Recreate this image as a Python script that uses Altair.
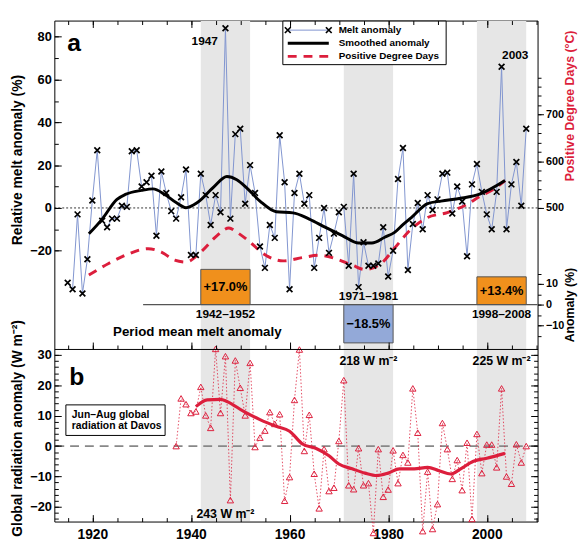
import altair as alt
import pandas as pd

FONT = "Liberation Sans"
RED = "#dc1e3c"
BLUE_LINE = "#8094cf"
ORANGE = "#f0901c"
BAR_BLUE = "#93a9d8"
BAND = "#e6e6e6"
XSHAPE = "M-1,-1L1,1M-1,1L1,-1"

# ---------------- data ----------------
melt_years = list(range(1915, 2009))
melt_values = [-35, -38, -3, -40, -24, 3.5, 27, -6, -9, -5,
               -5, 1, 0.5, 26.5, 27, 10, 12, 15, -13, 17,
               7, -1.5, -5, 5, 18, -22, -22, 16, 6, -8,
               6, -2, 84, -5, 34.5, 37, 2, 20, 7, -18,
               -28, -8, -14, 34, 12, -38, 7, 16, 2, 6,
               -28, -14, 0, -21, -12, -2, 0.5, -27, 16, -37,
               -16, -27, -27, -26, -9, -32, -20, 13.5, 28, -29,
               -7.5, 2.3, -10, 6, -1, 4, 16, 16.5, -2.6, 10,
               3, -22.6, 11, 20.5, 7.5, -3, -10, 7.5, 66, -10,
               11, 21.5, 1, 37]

smooth_years = [1919.3, 1922, 1925, 1926.7, 1930, 1932.3, 1934.7, 1937, 1939, 1941.3,
                1944.7, 1947.3, 1949.3, 1951.3, 1954, 1957.3, 1960.7, 1964, 1967.3, 1970.7,
                1974, 1976.7, 1979.3, 1981.3, 1983, 1984.7, 1988, 1990.7, 1994.7, 1998.7, 2003.7]
smooth_values = [-12.1, -5.2, 4, 6.3, 8.2, 8.9, 6.3, 2.5, 0.1, 2.5,
                 10, 14.7, 13.2, 9.4, 3.2, -1.8, -2.3, -5.2, -9.1, -12.9,
                 -16.4, -16.4, -13.7, -11.4, -7.8, -4.5, 2, 3.2, 4.5, 6.6, 12.8]

pdd_years = [1919.3, 1923.3, 1926.7, 1931.3, 1934, 1936.7, 1939, 1942, 1945.3, 1947.7,
             1949.3, 1952, 1954.7, 1958.7, 1962.7, 1966, 1969.3, 1972.7, 1975.3, 1978.7,
             1981.3, 1984.7, 1988, 1992, 1996, 1998.7, 2001.3, 2003.7]
pdd_values = [356, 381, 398.5, 412.7, 405.5, 388, 384, 405.5, 440.8, 457,
              448, 426.6, 402, 386.5, 393.7, 398.5, 391.4, 377.4, 368, 382,
              414, 455, 479.5, 490, 507.8, 525.4, 539.5, 558.6]

rad_years = list(range(1937, 2009))
rad_values = [0, 15.7, 13.8, 10.9, 11.4, 19.5, 10.1, 6, 32, 10.9,
              29.6, -17.8, 28.2, 19.2, 10.1, 27.4, -0.3, 2.8, 5.1, 11.2,
              7.3, 10.5, -18, -10.2, 15.2, 31.8, -1.6, 10.3, -9.1, -20.5,
              -1, -14.8, -13.7, 1.7, 21.7, -12.9, -14.2, -0.7, -12.9, -12.2,
              -28.6, -1, -16.7, -14.3, -1.4, -12.2, -2.9, -5.4, 19, 4.4,
              -28, -8.4, -27.3, -19.1, 7.6, -1, -10.8, -4.6, -14.5, 1.1,
              -24, 4, -8.9, 0.5, 0.5, -7, 19, -10, -12.4, 0.6,
              -5.4, 0]

radsm_years = [1941, 1943.3, 1946, 1947.3, 1950.7, 1954, 1957.3, 1960, 1962.7, 1965.3,
               1968, 1970, 1972.7, 1975.3, 1977.7, 1980, 1982.3, 1985.3, 1988, 1990.3,
               1992.7, 1994.7, 1997.3, 2000, 2003.7]
radsm_values = [13, 15.2, 15.4, 14.7, 11.4, 8.7, 6.5, 4.9, 0.6, -0.7,
                -3.2, -5.9, -7.5, -8.9, -9.7, -8.9, -7.5, -7.5, -7, -8.1,
                -9.2, -7.5, -5, -4, -2.4]

band_start = [1942, 1971, 1998]
band_end = [1952, 1981, 2008]
period_labels = ["1942–1952", "1971–1981", "1998–2008"]
period_means = [17.0, -18.5, 13.4]
period_texts = ["+17.0%", "−18.5%", "+13.4%"]
rad_means = ["243 W m⁻²", "218 W m⁻²", "225 W m⁻²"]

# ---------------- scales ----------------
W, H = 490, 508


def xs():
    return alt.Scale(domain=[1912.3, 2010.3], nice=False, zero=False)


def melt_s():
    return alt.Scale(domain=[-20, 80], range=[233.4, 16.4], nice=False, zero=False)


def pdd_s():
    return alt.Scale(domain=[500, 780], range=[190, 57.56], nice=False, zero=False)


def bar_s():
    return alt.Scale(domain=[-15, 15], range=[319.5, 256.5], nice=False, zero=False)


def rad_s():
    return alt.Scale(domain=[-24, 30], range=[505.4, 339.1], nice=False, zero=False)


def tick_axis(orient, offset, values, size, domain=False):
    return alt.Axis(orient=orient, offset=offset, values=values, tickSize=size, labels=False,
                    domain=domain, grid=False, ticks=True, tickColor="black", tickWidth=1,
                    domainColor="black", zindex=2)


dummy = pd.DataFrame({"year": [1960.0], "v": [0.0]})


def axis_layer(yscale, x_axis=None, y_axis=None):
    return alt.Chart(dummy).mark_point(opacity=0).encode(
        x=alt.X("year:Q", scale=xs(), axis=x_axis, title=None),
        y=alt.Y("v:Q", scale=yscale(), axis=y_axis, title=None),
    )


yr5 = list(range(1915, 2011, 5))
yr20 = [1920, 1940, 1960, 1980, 2000]

melt_df = pd.DataFrame({"year": melt_years, "v": melt_values})
smooth_df = pd.DataFrame({"year": smooth_years, "v": smooth_values})
pdd_df = pd.DataFrame({"year": pdd_years, "v": pdd_values})
rad_df = pd.DataFrame({"year": rad_years, "v": rad_values})
radsm_df = pd.DataFrame({"year": radsm_years, "v": radsm_values})
per_df = pd.DataFrame({"start": band_start, "end": band_end, "mean": period_means,
                       "label": period_texts, "period": period_labels})
per_df["mid"] = (per_df["start"] + per_df["end"]) / 2
per_df["half"] = per_df["mean"] / 2
per_df["zero"] = 0.0
zero_df = pd.DataFrame({"v": [0.0]})
base_df = pd.DataFrame({"x0": [1930.3], "x1": [2010.3], "v": [0.0]})

layers = []

# gray bands + bottom year labels
layers.append(
    alt.Chart(per_df).mark_rect(color=BAND).encode(
        x=alt.X("start:Q", scale=xs(), title=None,
                axis=alt.Axis(orient="bottom", values=yr20, format="d", ticks=False, domain=False,
                              labelFontSize=14, labelPadding=6, grid=False)),
        x2="end:Q",
        y=alt.value(0.5), y2=alt.value(H - 0.5),
    )
)

# period mean bars
layers.append(
    alt.Chart(per_df).mark_rect(stroke="#555555", strokeWidth=1).encode(
        x=alt.X("start:Q", scale=xs(), axis=None),
        x2="end:Q",
        y=alt.Y("mean:Q", scale=bar_s(), title="Anomaly (%)",
                axis=alt.Axis(orient="right", values=[-10, 0, 10], tickSize=6, domain=False,
                              labelFontSize=11, labelPadding=2, titleX=32, titleY=288,
                              titleAngle=270, titleAlign="center", titleBaseline="middle",
                              titleFontSize=12.5, grid=False, zindex=2)),
        y2="zero:Q",
        color=alt.condition("datum.mean > 0", alt.value(ORANGE), alt.value(BAR_BLUE)),
    )
)
layers.append(
    alt.Chart(base_df).mark_rule(color="#555555", strokeWidth=1.2).encode(
        x=alt.X("x0:Q", scale=xs(), axis=None), x2="x1:Q",
        y=alt.Y("v:Q", scale=bar_s(), axis=None),
    )
)
layers.append(
    alt.Chart(per_df).mark_text(font=FONT, fontWeight="bold", fontSize=13, color="black",
                                baseline="middle").encode(
        x=alt.X("mid:Q", scale=xs(), axis=None),
        y=alt.Y("half:Q", scale=bar_s(), axis=None),
        text="label:N",
    )
)
layers.append(
    alt.Chart(per_df).transform_calculate(ly="datum.mean > 0 ? -6.3 : 2.4").mark_text(
        font=FONT, fontWeight="bold", fontSize=12, color="black", baseline="alphabetic").encode(
        x=alt.X("mid:Q", scale=xs(), axis=None),
        y=alt.Y("ly:Q", scale=bar_s(), axis=None),
        text="period:N",
    )
)

# panel a zero line
layers.append(
    alt.Chart(zero_df).mark_rule(color="black", strokeDash=[2, 2], strokeWidth=0.8).encode(
        y=alt.Y("v:Q", scale=melt_s(), axis=None)
    )
)
# melt anomaly line
layers.append(
    alt.Chart(melt_df).mark_line(color=BLUE_LINE, strokeWidth=1).encode(
        x=alt.X("year:Q", scale=xs(), axis=None),
        y=alt.Y("v:Q", scale=melt_s(), title="Relative melt anomaly (%)",
                axis=alt.Axis(orient="left", values=[-20, 0, 20, 40, 60, 80], ticks=False,
                              domain=False, labelFontSize=13, labelPadding=3, titleX=-37,
                              titleY=141, titleAngle=270, titleAlign="center",
                              titleBaseline="middle", titleFontSize=14, grid=False)),
    )
)
# PDD
layers.append(
    alt.Chart(pdd_df).mark_line(color=RED, strokeWidth=3, strokeDash=[9, 7],
                                interpolate="monotone").encode(
        x=alt.X("year:Q", scale=xs(), axis=None),
        y=alt.Y("v:Q", scale=pdd_s(), title="Positive Degree Days (°C)",
                axis=alt.Axis(orient="right", values=[500, 600, 700], tickSize=6, domain=False,
                              labelFontSize=11, labelPadding=2, titleX=32, titleY=86,
                              titleAngle=270, titleAlign="center", titleBaseline="middle",
                              titleFontSize=12.5, titleColor=RED, grid=False, zindex=2)),
    )
)
# smoothed
layers.append(
    alt.Chart(smooth_df).mark_line(color="black", strokeWidth=3, interpolate="monotone").encode(
        x=alt.X("year:Q", scale=xs(), axis=None),
        y=alt.Y("v:Q", scale=melt_s(), axis=None),
    )
)
# melt points
layers.append(
    alt.Chart(melt_df).mark_point(shape=XSHAPE, size=34, color="black", filled=False,
                                  strokeWidth=1.7, opacity=1).encode(
        x=alt.X("year:Q", scale=xs(), axis=None),
        y=alt.Y("v:Q", scale=melt_s(), axis=None),
    )
)

# panel b
layers.append(
    alt.Chart(zero_df).mark_rule(color="#888888", strokeDash=[9, 6], strokeWidth=1.6).encode(
        y=alt.Y("v:Q", scale=rad_s(), axis=None)
    )
)
layers.append(
    alt.Chart(rad_df).mark_line(color=RED, strokeWidth=1, strokeDash=[1.5, 2], opacity=0.8).encode(
        x=alt.X("year:Q", scale=xs(), axis=None),
        y=alt.Y("v:Q", scale=rad_s(), title="Global radiation anomaly (W m⁻²)",
                axis=alt.Axis(orient="left", values=[-20, -10, 0, 10, 20, 30], ticks=False,
                              domain=False, labelFontSize=13, labelPadding=3, titleX=-37,
                              titleY=413, titleAngle=270, titleAlign="center",
                              titleBaseline="middle", titleFontSize=14, grid=False)),
    )
)
layers.append(
    alt.Chart(rad_df).mark_point(shape="triangle-up", size=42, color=RED, filled=False,
                                 strokeWidth=1, opacity=1).encode(
        x=alt.X("year:Q", scale=xs(), axis=None),
        y=alt.Y("v:Q", scale=rad_s(), axis=None),
    )
)
layers.append(
    alt.Chart(radsm_df).mark_line(color=RED, strokeWidth=3.2, interpolate="monotone").encode(
        x=alt.X("year:Q", scale=xs(), axis=None),
        y=alt.Y("v:Q", scale=rad_s(), axis=None),
    )
)

# tick-only axes
layers += [
    axis_layer(melt_s, tick_axis("bottom", -H, yr20, 7), tick_axis("right", -W, list(range(-20, 81, 20)), 7)),
    axis_layer(melt_s, tick_axis("bottom", -H, yr5, 4), tick_axis("right", -W, list(range(-20, 81, 10)), 4)),
    axis_layer(pdd_s, tick_axis("top", -333, yr20, 7, domain=True), tick_axis("right", 0, list(range(500, 781, 20)), 3.5)),
    axis_layer(bar_s, tick_axis("top", -333, yr5, 4), tick_axis("right", 0, list(range(-15, 16, 5)), 3.5)),
    axis_layer(rad_s, tick_axis("top", -H, yr20, 7), tick_axis("right", -W, list(range(-20, 31, 10)), 7)),
    axis_layer(rad_s, tick_axis("top", -H, yr5, 4), tick_axis("right", -W, list(range(-24, 31, 2)), 4)),
    axis_layer(rad_s, None, tick_axis("left", -W, list(range(-20, 31, 10)), 7)),
    axis_layer(rad_s, None, tick_axis("left", -W, list(range(-24, 31, 2)), 4)),
]

# radiation period means
for m, t, py in zip((per_df["mid"]).tolist(), rad_means, [504.7, 349.7, 349.7]):
    layers.append(
        alt.Chart(dummy).mark_text(text=t, font=FONT, fontWeight="bold", fontSize=12.5,
                                   color="black", baseline="alphabetic").encode(
            x=alt.X(datum=m, type="quantitative", scale=xs(), axis=None),
            y=alt.value(py),
        )
    )


def label(txt, x, y, size, align="left", baseline="alphabetic", color="black"):
    return alt.Chart(dummy).mark_text(text=txt, font=FONT, fontWeight="bold", fontSize=size,
                                      color=color, align=align, baseline=baseline).encode(
        x=alt.value(x), y=alt.value(y))


layers += [
    label("a", 13, 31, 25),
    label("b", 15, 370, 25),
    label("1947", 152.5, 25, 12, align="center"),
    label("2003", 454, 39, 12),
    label("Period mean melt anomaly", 145, 319.7, 13.5, align="center"),
]

# legend
layers += [
    alt.Chart(dummy).mark_rect(fill="white", stroke="black", strokeWidth=1).encode(
        x=alt.value(231.7), x2=alt.value(397.3), y=alt.value(0.5), y2=alt.value(44.7)),
    alt.Chart(dummy).mark_rule(color=BLUE_LINE, strokeWidth=1).encode(
        x=alt.value(236.7), x2=alt.value(278.3), y=alt.value(9.7)),
    alt.Chart(dummy).mark_point(shape=XSHAPE, size=34, color="black", filled=False, strokeWidth=1.7,
                                opacity=1).encode(x=alt.value(236.7), y=alt.value(9.7)),
    alt.Chart(dummy).mark_point(shape=XSHAPE, size=34, color="black", filled=False, strokeWidth=1.7,
                                opacity=1).encode(x=alt.value(278.3), y=alt.value(9.7)),
    alt.Chart(dummy).mark_rule(color="black", strokeWidth=3).encode(
        x=alt.value(236.7), x2=alt.value(278.3), y=alt.value(23)),
    alt.Chart(dummy).mark_rule(color=RED, strokeWidth=3, strokeDash=[9, 7]).encode(
        x=alt.value(236.7), x2=alt.value(278.3), y=alt.value(36.3)),
    label("Melt anomaly", 288.3, 9.7, 10, baseline="middle"),
    label("Smoothed anomaly", 288.3, 23, 10, baseline="middle"),
    label("Positive Degree Days", 288.3, 36.3, 10, baseline="middle"),
]

# radiation box
layers += [
    alt.Chart(dummy).mark_rect(fill="white", stroke="black", strokeWidth=1).encode(
        x=alt.value(11.7), x2=alt.value(112.3), y=alt.value(389.7), y2=alt.value(420.7)),
    alt.Chart(dummy).mark_text(text=["Jun–Aug global", "radiation at Davos"], font=FONT,
                               fontWeight="bold", fontSize=10.5, lineHeight=11, align="left",
                               baseline="alphabetic", color="black").encode(
        x=alt.value(17.7), y=alt.value(403)),
]

chart = alt.layer(*layers).resolve_scale(x="independent", y="independent").resolve_axis(
    x="independent", y="independent"
).properties(
    width=W, height=H,
    autosize=alt.AutoSizeParams(type="none"),
    padding={"left": 47, "top": 9, "right": 41, "bottom": 17},
).configure_view(stroke="black", strokeWidth=1).configure_axis(
    labelFont=FONT, titleFont=FONT, labelFontWeight="bold", titleFontWeight="bold",
    labelColor="black", tickColor="black", domainColor="black", grid=False,
)

chart.save("out.html", embed_options={"renderer": "svg", "actions": False})
